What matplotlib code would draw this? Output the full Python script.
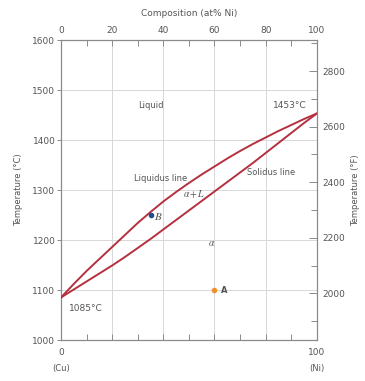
import matplotlib
matplotlib.use("Agg")
import matplotlib.pyplot as plt
from matplotlib.ticker import MultipleLocator

plt.rcParams["mathtext.fontset"] = "stix"

# Cu-Ni phase diagram data (composition in at% Ni, temperature in C)
comp = [0, 5, 10, 15, 20, 25, 30, 35, 40, 45, 50,
        55, 60, 65, 70, 75, 80, 85, 90, 95, 100]
liquidus = [1085, 1112, 1138, 1162, 1186, 1210, 1234, 1256, 1277, 1296, 1314,
            1331, 1347, 1363, 1378, 1392, 1405, 1418, 1430, 1442, 1453]
solidus = [1085, 1101, 1117, 1133, 1149, 1166, 1184, 1202, 1221, 1240, 1259,
           1278, 1297, 1316, 1335, 1354, 1374, 1394, 1414, 1434, 1453]

point_a = (60, 1100)
point_b = (35, 1250)

fahr_ticks = [2000, 2200, 2400, 2600, 2800]
top_ticks = [0, 20, 40, 60, 80, 100]

txt = "#555555"
edge = "#8a8a8a"
red = "#b5303e"

fig = plt.figure(figsize=(3.65, 3.81), dpi=100)
ax = fig.add_axes([0.167, 0.1076, 0.701, 0.7874])

ax.plot(comp, liquidus, color=red, lw=1.4, zorder=3)
ax.plot(comp, solidus, color=red, lw=1.4, zorder=3)

ax.plot(*point_b, "o", color="#1f4e8c", ms=3, zorder=4)
ax.plot(*point_a, "o", color="#f0902a", ms=3, zorder=4)

ax.set_xlim(0, 100)
ax.set_ylim(1000, 1600)

ax.set_xticks(top_ticks)
ax.xaxis.set_minor_locator(MultipleLocator(10))
ax.set_yticks([1000, 1100, 1200, 1300, 1400, 1500, 1600])
ax.grid(True, color="#d8d8d8", lw=0.7, zorder=0)

ax.tick_params(axis="x", which="both", direction="in", top=True, bottom=True,
               labeltop=True, labelbottom=False, colors=edge, labelcolor=txt,
               labelsize=6.5, length=4, width=0.7)
ax.tick_params(axis="y", which="both", direction="out", left=True, right=False,
               colors=edge, labelcolor=txt, labelsize=6.5, length=3, width=0.7, pad=1)
for s in ax.spines.values():
    s.set_color(edge)
    s.set_linewidth(0.9)

ax.xaxis.set_label_position("top")
ax.set_xlabel("Composition (at% Ni)", fontsize=6.5, color=txt, labelpad=7)
ax.set_ylabel("Temperature (°C)", fontsize=6, color=txt, labelpad=7)

# bottom end labels
ax.text(0, 985, "0", ha="center", va="top", fontsize=6.5, color=txt)
ax.text(100, 985, "100", ha="center", va="top", fontsize=6.5, color=txt)
ax.text(0, 952, "(Cu)", ha="center", va="top", fontsize=6, color=txt)
ax.text(100, 952, "(Ni)", ha="center", va="top", fontsize=6, color=txt)

# right axis in Fahrenheit
ax2 = ax.twinx()
ax2.set_ylim(1000 * 9 / 5 + 32, 1600 * 9 / 5 + 32)
ax2.set_yticks(fahr_ticks)
ax2.yaxis.set_minor_locator(MultipleLocator(100))
ax2.tick_params(axis="y", which="major", direction="in", colors=edge,
                labelcolor=txt, labelsize=6.5, length=6, width=0.7, pad=4)
ax2.tick_params(axis="y", which="minor", direction="in", colors=edge, length=4, width=0.7)
for s in ax2.spines.values():
    s.set_visible(False)
ax2.set_ylabel("Temperature (°F)", fontsize=6, color=txt, labelpad=4)

# region labels
ax.text(35, 1470, "Liquid", ha="center", va="center", fontsize=6, color=txt)
ax.text(96, 1470, "1453°C", ha="right", va="center", fontsize=6.5, color=txt)
ax.text(39, 1324, "Liquidus line", ha="center", va="center", fontsize=6, color=txt)
ax.text(52, 1291, r"$\alpha + L$", ha="center", va="center", fontsize=7, color=txt)
ax.text(82, 1336, "Solidus line", ha="center", va="center", fontsize=6, color=txt)
ax.text(59, 1194, r"$\alpha$", ha="center", va="center", fontsize=7, color=txt)
ax.text(point_b[0] + 1.5, point_b[1] - 3, r"$B$", ha="left", va="center", fontsize=8, color=txt)
ax.text(point_a[0] + 2.5, point_a[1], "A", ha="left", va="center", fontsize=6, color=txt,
        fontweight="bold")
ax.text(3, 1064, "1085°C", ha="left", va="center", fontsize=6.5, color=txt)

fig.savefig("out.png", dpi=100)
